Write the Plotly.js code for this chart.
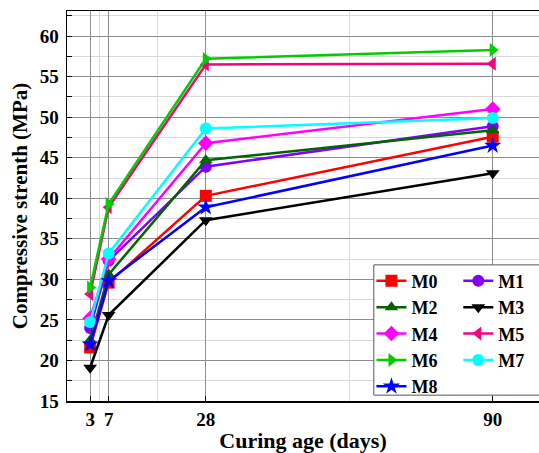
<!DOCTYPE html>
<html><head><meta charset="utf-8">
<script src="https://cdn.plot.ly/plotly-3.0.1.min.js"></script>
<style>html,body{margin:0;padding:0;background:#fff}#chart{width:539px;height:453px}</style>
</head><body><div id="chart"></div>
<script>
const ages = [3, 7, 28, 90];
const xTickLabels = ['3', '7', '28', '90'];
const seriesNames = ['M0','M1','M2','M3','M4','M5','M6','M7','M8'];
const M0 = [21.6, 29.6, 40.3, 47.6];
const M1 = [24.0, 32.3, 43.9, 48.9];
const M2 = [22.5, 30.6, 44.7, 48.4];
const M3 = [19.1, 25.6, 37.3, 43.1];
const M4 = [25.2, 32.5, 46.8, 51.0];
const M5 = [28.2, 38.9, 56.5, 56.6];
const M6 = [29.0, 39.3, 57.2, 58.3];
const M7 = [24.7, 33.2, 48.6, 49.9];
const M8 = [22.0, 29.8, 38.9, 46.5];
const seriesValues = [M0, M1, M2, M3, M4, M5, M6, M7, M8];
const colors = ['#ff0000','#8000ff','#006400','#000000','#ff00ff','#f0047f','#00cc00','#00ffff','#0000ff'];
const symbols = ['square','circle','triangle-up','triangle-down','diamond','triangle-left','triangle-right','circle','star'];
const sizes = [12, 12, 12, 12, 12, 12, 12, 12, 13];

const font = 'Times New Roman, Liberation Serif, DejaVu Serif, serif';
const traces = seriesNames.map((n, i) => ({
  x: ages, y: seriesValues[i], name: n, type: 'scatter', mode: 'lines+markers',
  line: {color: colors[i], width: 2.5},
  marker: {color: colors[i], symbol: symbols[i], size: sizes[i]},
  legend: (i % 2 === 0) ? 'legend' : 'legend2'
}));

const legendBase = {
  xanchor: 'left', yanchor: 'top', bgcolor: 'rgba(0,0,0,0)', borderwidth: 0,
  font: {family: font, size: 18, color: '#000', weight: 700}, tracegroupgap: 0, itemwidth: 30
};

const layout = {
  width: 539, height: 453,
  font: {family: font},
  margin: {l: 67, r: 0, t: 11, b: 52},
  paper_bgcolor: '#fff', plot_bgcolor: '#fff',
  showlegend: true,
  legend: Object.assign({}, legendBase, {x: 0.645, y: 0.355}),
  legend2: Object.assign({}, legendBase, {x: 0.829, y: 0.355}),
  xaxis: {
    range: [-2, 100], tickmode: 'array', tickvals: ages, ticktext: xTickLabels,
    showgrid: true, gridcolor: '#8c8c8c', gridwidth: 1, zeroline: false,
    showline: true, linecolor: '#000', linewidth: 1.5, mirror: true,
    ticks: 'inside', ticklen: 5, tickcolor: '#000', ticklabelstandoff: 1,
    tickfont: {family: font, size: 19, color: '#000', weight: 700},
    minor: {tickmode: 'array', tickvals: [5, 17.5, 59], showgrid: true, gridcolor: '#d9d9d9', gridwidth: 1, ticks: ''},
    title: {text: 'Curing age (days)', font: {family: font, size: 22, color: '#000', weight: 700}, standoff: 5}
  },
  yaxis: {
    range: [15, 63.1], tickmode: 'linear', tick0: 15, dtick: 5,
    showgrid: true, gridcolor: '#8c8c8c', gridwidth: 1, zeroline: false,
    showline: true, linecolor: '#000', linewidth: 1.5, mirror: false,
    ticks: 'inside', ticklen: 5, tickcolor: '#000', ticklabelstandoff: 3,
    tickfont: {family: font, size: 19, color: '#000', weight: 700},
    minor: {tickmode: 'linear', tick0: 17.5, dtick: 5, showgrid: true, gridcolor: '#d9d9d9', gridwidth: 1, ticks: 'inside', ticklen: 5, tickcolor: '#000'},
    title: {text: 'Compressive strenth (MPa)', font: {family: font, size: 21, color: '#000', weight: 700}, standoff: 6}
  },
  shapes: [{type: 'rect', xref: 'paper', yref: 'paper', x0: 0.650, x1: 1.2, y0: 0.015, y1: 0.349,
    fillcolor: '#fff', line: {color: '#555', width: 1}, layer: 'above'}]
};

Plotly.newPlot('chart', traces, layout, {displayModeBar: false, staticPlot: true});
</script>
</body></html>
